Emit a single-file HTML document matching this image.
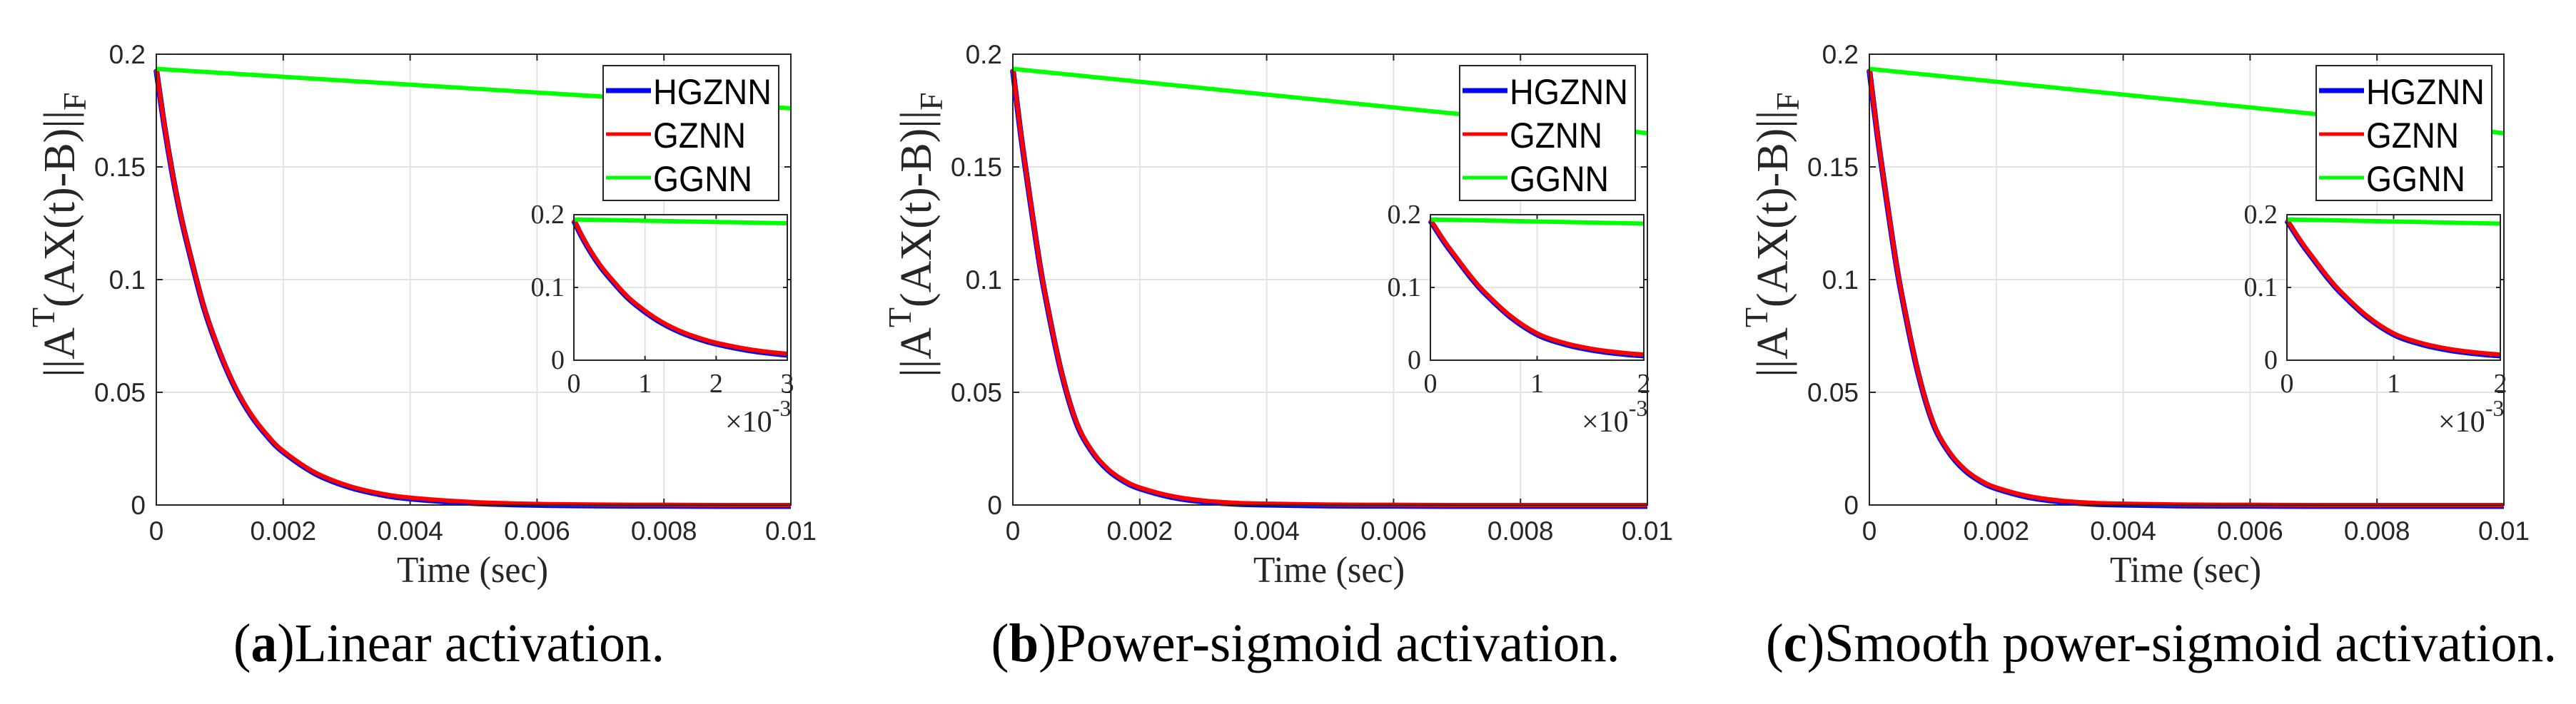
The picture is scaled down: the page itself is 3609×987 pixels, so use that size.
<!DOCTYPE html>
<html><head><meta charset="utf-8"><style>
html,body{margin:0;padding:0;background:#fff;}
svg{display:block;}
</style></head><body>
<svg id="fig" width="3609" height="987" viewBox="0 0 3609 987" xmlns="http://www.w3.org/2000/svg"></svg>
<script>
// ---- data ----
const timeMs = [0,0.125,0.25,0.375,0.5,0.75,1,1.25,1.5,1.75,2,2.5,3,3.5,4,5,6,7,8,9,10];
const hgznnA = [0.1935,0.169,0.148,0.130,0.115,0.088,0.068,0.052,0.040,0.031,0.024,0.0145,0.0088,0.0053,0.0033,0.0013,0.0005,0.0002,0.0001,0,0];
const gznnA  = [0.1935,0.169,0.148,0.130,0.115,0.088,0.068,0.052,0.040,0.031,0.024,0.0145,0.0088,0.0053,0.0033,0.0013,0.0005,0.0002,0.0001,0,0];
const hgznnB = [0.1935,0.165,0.140,0.116,0.095,0.061,0.037,0.024,0.016,0.011,0.0078,0.004,0.002,0.001,0.0006,0.0002,0.0001,0,0,0,0];
const gznnB  = [0.1935,0.165,0.140,0.116,0.095,0.061,0.037,0.024,0.016,0.011,0.0078,0.004,0.002,0.001,0.0006,0.0002,0.0001,0,0,0,0];
const hgznnC = [0.1935,0.165,0.140,0.116,0.095,0.061,0.037,0.024,0.016,0.011,0.0078,0.004,0.002,0.001,0.0006,0.0002,0.0001,0,0,0,0];
const gznnC  = [0.1935,0.165,0.140,0.116,0.095,0.061,0.037,0.024,0.016,0.011,0.0078,0.004,0.002,0.001,0.0006,0.0002,0.0001,0,0,0,0];
const ggnnTime = [0,10];
const ggnnA = [0.1935,0.176];
const ggnnB = [0.1935,0.165];
const ggnnC = [0.1935,0.165];
const xTicks = [0,2,4,6,8,10];
const xTickLabels = ['0','0.002','0.004','0.006','0.008','0.01'];
const yTicks = [0,0.05,0.1,0.15,0.2];
const yTickLabels = ['0','0.05','0.1','0.15','0.2'];
const insetYTicks = [0,0.1,0.2];
const insetYTickLabels = ['0','0.1','0.2'];
const insetXMax = [3,2,2];
const captionLetters = ['a','b','c'];
const captionTexts = ['Linear activation.','Power-sigmoid activation.','Smooth power-sigmoid activation.'];
const legendLabels = ['HGZNN','GZNN','GGNN'];

// ---- layout ----
const NS = 'http://www.w3.org/2000/svg';
const svg = document.getElementById('fig');
const offsets = [0,1200,2400];
const capCenters = [629,1829,3028];
const capWidths = [604,881,1108];
const L=219, R=1108, T=76, B=708;
const IL=804, IR=1103, IT=301, IB=505;

function mk(tag, attrs, parent){
  const e=document.createElementNS(NS,tag);
  for(const k in attrs) e.setAttribute(k,attrs[k]);
  (parent||svg).appendChild(e);
  return e;
}
function pathFrom(pts){
  let d='M'+pts[0][0].toFixed(2)+','+pts[0][1].toFixed(2);
  for(let i=0;i<pts.length-1;i++){
    const p0=pts[Math.max(0,i-1)],p1=pts[i],p2=pts[i+1],p3=pts[Math.min(pts.length-1,i+2)];
    const c1=[p1[0]+(p2[0]-p0[0])/6,p1[1]+(p2[1]-p0[1])/6];
    const c2=[p2[0]-(p3[0]-p1[0])/6,p2[1]-(p3[1]-p1[1])/6];
    d+='C'+c1[0].toFixed(2)+','+c1[1].toFixed(2)+' '+c2[0].toFixed(2)+','+c2[1].toFixed(2)+' '+p2[0].toFixed(2)+','+p2[1].toFixed(2);
  }
  return d;
}
const SANS='"Liberation Sans", Arial, sans-serif';
const SERIF='"Liberation Serif", "Times New Roman", serif';

for(let p=0;p<3;p++){
  const ox=offsets[p];
  const hg=[hgznnA,hgznnB,hgznnC][p], gz=[gznnA,gznnB,gznnC][p], gg=[ggnnA,ggnnB,ggnnC][p];
  const g=mk('g',{});
  
  
  const xs=t=>ox+L+t/10*(R-L);
  const ys=v=>B-v/0.2*(B-T);
  // grid
  const grid=mk('g',{stroke:'#e3e3e3','stroke-width':2},g);
  
  
  xTicks.forEach(t=>mk('line',{x1:xs(t),x2:xs(t),y1:T,y2:B},grid));
  yTicks.forEach(v=>mk('line',{x1:ox+L,x2:ox+R,y1:ys(v),y2:ys(v)},grid));
  // ticks
  const tk=mk('g',{stroke:'#262626','stroke-width':2},g);
  xTicks.forEach(t=>{mk('line',{x1:xs(t),x2:xs(t),y1:B,y2:B-9},tk);mk('line',{x1:xs(t),x2:xs(t),y1:T,y2:T+9},tk);});
  yTicks.forEach(v=>{mk('line',{x1:ox+L,x2:ox+L+9,y1:ys(v),y2:ys(v)},tk);mk('line',{x1:ox+R,x2:ox+R-9,y1:ys(v),y2:ys(v)},tk);});
  // tick labels
  xTicks.forEach((t,i)=>{
    const e=mk('text',{x:xs(t),y:757,'text-anchor':'middle','font-family':SANS,'font-size':37,fill:'#262626'},g);
    e.textContent=xTickLabels[i];
    
    
  });
  yTicks.forEach((v,i)=>{
    const e=mk('text',{x:ox+204,y:ys(v)+13,'text-anchor':'end','font-family':SANS,'font-size':37,fill:'#262626'},g);
    e.textContent=yTickLabels[i];
    
    
  });
  // series
  const ptsHG=timeMs.map((t,i)=>[xs(t),ys(hg[i])+1.5]);
  const ptsGZ=timeMs.map((t,i)=>[xs(t),ys(gz[i])]);
  const ptsGG=ggnnTime.map((t,i)=>[xs(t),ys(gg[i])]);
  const s1=mk('path',{d:pathFrom(ptsHG),fill:'none',stroke:'#0000ff','stroke-width':8},g);
  
  
  const s2=mk('path',{d:pathFrom(ptsGZ),fill:'none',stroke:'#ff0000','stroke-width':6},g);
  
  
  const s3=mk('path',{d:pathFrom(ptsGG),fill:'none',stroke:'#00ff00','stroke-width':6},g);
  
  
  // axes box
  const box=mk('rect',{x:ox+L,y:T,width:R-L,height:B-T,fill:'none',stroke:'#262626','stroke-width':2},g);
  
  
  // axis labels
  const xl=mk('text',{x:ox+662,y:816,'text-anchor':'middle','font-family':SERIF,'font-size':52,fill:'#262626',textLength:212,lengthAdjust:'spacingAndGlyphs'},g);
  xl.textContent='Time (sec)';
  
  
  const yl=mk('text',{transform:'translate('+(ox+104)+',329) rotate(-90)','text-anchor':'middle','font-family':SERIF,'font-size':62,fill:'#262626'},g);
  
  
  yl.appendChild(document.createTextNode('||A'));
  const sup=mk('tspan',{dy:-28,'font-size':46},yl); sup.textContent='T';
  const mid=mk('tspan',{dy:28},yl); mid.textContent='(AX(t)-B)||';
  const sub=mk('tspan',{dy:16,'font-size':46},yl); sub.textContent='F';
  // legend
  const lg=mk('g',{},g);
  
  
  mk('rect',{x:ox+845,y:92,width:246,height:189,fill:'#fff',stroke:'#262626','stroke-width':2},lg);
  const lcol=['#0000ff','#ff0000','#00ff00'], lw=[7,5,5], lrow=[127,188,249], lbase=[146,207,268], llen=[166,130,139];
  for(let i=0;i<3;i++){
    const ln=mk('line',{x1:ox+849,x2:ox+912,y1:lrow[i],y2:lrow[i],stroke:lcol[i],'stroke-width':lw[i]},lg);
    
    
    const tx=mk('text',{x:ox+915,y:lbase[i],'font-family':SANS,'font-size':50,fill:'#000',textLength:llen[i],lengthAdjust:'spacingAndGlyphs'},lg);
    tx.textContent=legendLabels[i];
    
    
  }
  // inset
  const ig=mk('g',{},g);
  
  
  const xm=insetXMax[p];
  const ixs=t=>ox+IL+t/xm*(IR-IL);
  const iys=v=>IB-v/0.2*(IB-IT);
  mk('rect',{x:ox+IL,y:IT,width:IR-IL,height:IB-IT,fill:'#fff'},ig);
  const ixt=[]; for(let k=0;k<=xm;k++) ixt.push(k);
  const igr=mk('g',{stroke:'#e3e3e3','stroke-width':2},ig);
  ixt.forEach(t=>mk('line',{x1:ixs(t),x2:ixs(t),y1:IT,y2:IB},igr));
  insetYTicks.forEach(v=>mk('line',{x1:ox+IL,x2:ox+IR,y1:iys(v),y2:iys(v)},igr));
  const cid='clip'+p;
  const cp=mk('clipPath',{id:cid},ig);
  mk('rect',{x:ox+IL-4,y:IT-4,width:IR-IL+4,height:IB-IT+8},cp);
  const cg=mk('g',{'clip-path':'url(#'+cid+')'},ig);
  const iHG=mk('path',{d:pathFrom(timeMs.map((t,i)=>[ixs(t),iys(hg[i])+1.5])),fill:'none',stroke:'#0000ff','stroke-width':8},cg);
  
  
  const iGZ=mk('path',{d:pathFrom(timeMs.map((t,i)=>[ixs(t),iys(gz[i])])),fill:'none',stroke:'#ff0000','stroke-width':6},cg);
  
  
  const iGG=mk('path',{d:pathFrom(ggnnTime.map((t,i)=>[ixs(t),iys(gg[i])])),fill:'none',stroke:'#00ff00','stroke-width':6},cg);
  
  
  const itk=mk('g',{stroke:'#262626','stroke-width':2},ig);
  ixt.forEach(t=>{mk('line',{x1:ixs(t),x2:ixs(t),y1:IB,y2:IB-6},itk);mk('line',{x1:ixs(t),x2:ixs(t),y1:IT,y2:IT+6},itk);});
  insetYTicks.forEach(v=>{mk('line',{x1:ox+IL,x2:ox+IL+6,y1:iys(v),y2:iys(v)},itk);mk('line',{x1:ox+IR,x2:ox+IR-6,y1:iys(v),y2:iys(v)},itk);});
  mk('rect',{x:ox+IL,y:IT,width:IR-IL,height:IB-IT,fill:'none',stroke:'#262626','stroke-width':2},ig);
  ixt.forEach(t=>{
    const e=mk('text',{x:ixs(t),y:550,'text-anchor':'middle','font-family':SERIF,'font-size':38,fill:'#262626'},ig);
    e.textContent=String(t);
    
    
  });
  insetYTicks.forEach((v,i)=>{
    const e=mk('text',{x:ox+791,y:iys(v)+12,'text-anchor':'end','font-family':SERIF,'font-size':38,fill:'#262626'},ig);
    e.textContent=insetYTickLabels[i];
    
    
  });
  const ex=mk('text',{x:ox+1016,y:605,'font-family':SERIF,'font-size':42,fill:'#262626'},ig);
  
  
  ex.appendChild(document.createTextNode('\u00d710'));
  const es=mk('tspan',{dy:-22,'font-size':32},ex); es.textContent='-3';
  // caption
  const cap=mk('text',{x:capCenters[p],y:927,'text-anchor':'middle','font-family':SERIF,'font-size':76,fill:'#000',textLength:capWidths[p],lengthAdjust:'spacingAndGlyphs'},g);
  
  
  cap.appendChild(document.createTextNode('('));
  const cb=mk('tspan',{'font-weight':'bold'},cap); cb.textContent=captionLetters[p];
  cap.appendChild(document.createTextNode(')'+captionTexts[p]));
}
</script>
</body></html>
